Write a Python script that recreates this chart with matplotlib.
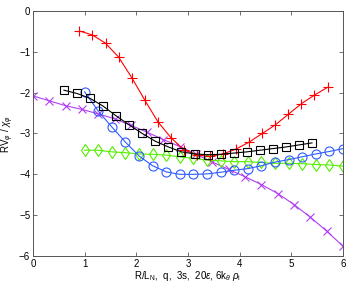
import numpy as np
import matplotlib
matplotlib.use("Agg")
import matplotlib.pyplot as plt

plt.rcParams['font.family'] = ['Liberation Sans', 'DejaVu Sans']
plt.rcParams['mathtext.fontset'] = 'custom'
plt.rcParams['mathtext.rm'] = 'Liberation Sans'
plt.rcParams['mathtext.it'] = 'Liberation Sans:italic'

# data
x_red = np.linspace(0.9, 5.7, 20)
y_red = [-0.49, -0.59, -0.79, -1.13, -1.63, -2.18, -2.71, -3.10, -3.40, -3.53,
         -3.56, -3.50, -3.38, -3.21, -3.00, -2.79, -2.53, -2.27, -2.06, -1.87]
x_black = np.linspace(0.6, 5.4, 20)
y_black = [-1.94, -2.02, -2.14, -2.33, -2.57, -2.79, -3.00, -3.19, -3.33, -3.45,
           -3.50, -3.52, -3.51, -3.48, -3.45, -3.41, -3.37, -3.33, -3.28, -3.23]
x_blue = np.linspace(1.0, 6.0, 20)
y_blue = [-1.98, -2.45, -2.84, -3.21, -3.55, -3.79, -3.94, -4.00, -4.00, -3.99,
          -3.95, -3.90, -3.86, -3.79, -3.70, -3.64, -3.57, -3.50, -3.44, -3.37]
x_green = np.linspace(1.0, 6.0, 20)
y_green = [-3.41, -3.41, -3.45, -3.47, -3.50, -3.51, -3.53, -3.57, -3.61, -3.65,
           -3.67, -3.69, -3.69, -3.71, -3.73, -3.73, -3.74, -3.76, -3.77, -3.80]
x_purple = np.linspace(0.0, 6.0, 20)
y_purple = [-2.08, -2.20, -2.32, -2.41, -2.52, -2.64, -2.80, -2.97, -3.15, -3.32,
            -3.51, -3.70, -3.88, -4.06, -4.25, -4.47, -4.74, -5.05, -5.39, -5.76]

xticks = [0, 1, 2, 3, 4, 5, 6]
yticks = [0, -1, -2, -3, -4, -5, -6]

fig = plt.figure(figsize=(3.54, 2.88), dpi=100)
ax = fig.add_axes([0.093, 0.111, 0.876, 0.851])

lw = 0.8
ms = 5.5
ax.plot(x_purple, y_purple, color='#b040f0', marker='x', ms=ms, lw=lw, mew=lw)
ax.plot(x_green, y_green, color='#55ee00', marker='d', ms=ms + 1, lw=lw, mew=lw, mfc='none')
ax.plot(x_blue, y_blue, color='#2f5cff', marker='o', ms=ms + 1, lw=lw, mew=lw, mfc='none')
ax.plot(x_red, y_red, color='#ff0000', marker='+', ms=ms + 1, lw=lw, mew=lw)
ax.plot(x_black, y_black, color='black', marker='s', ms=ms, lw=lw, mew=lw, mfc='none')

ax.set_xlim(0, 6)
ax.set_ylim(-6, 0)
ax.set_xticks(xticks)
ax.set_yticks(yticks)
ax.tick_params(direction='in', length=3, width=0.6, labelsize=7, top=True, right=True,
               colors='#555555', labelcolor='black', pad=2)
for s in ax.spines.values():
    s.set_color('#555555')
    s.set_linewidth(0.7)

ax.set_xlabel(r'R/L$_{\rm N}$,  q,  3s,  20$\epsilon$, 6k$_\theta$ $\rho_{\rm i}$', fontsize=7, labelpad=0)
ax.set_ylabel(r'RV$_\varphi$ / $\chi_\varphi$', fontsize=7, labelpad=2)

fig.savefig('out.png', dpi=100)
